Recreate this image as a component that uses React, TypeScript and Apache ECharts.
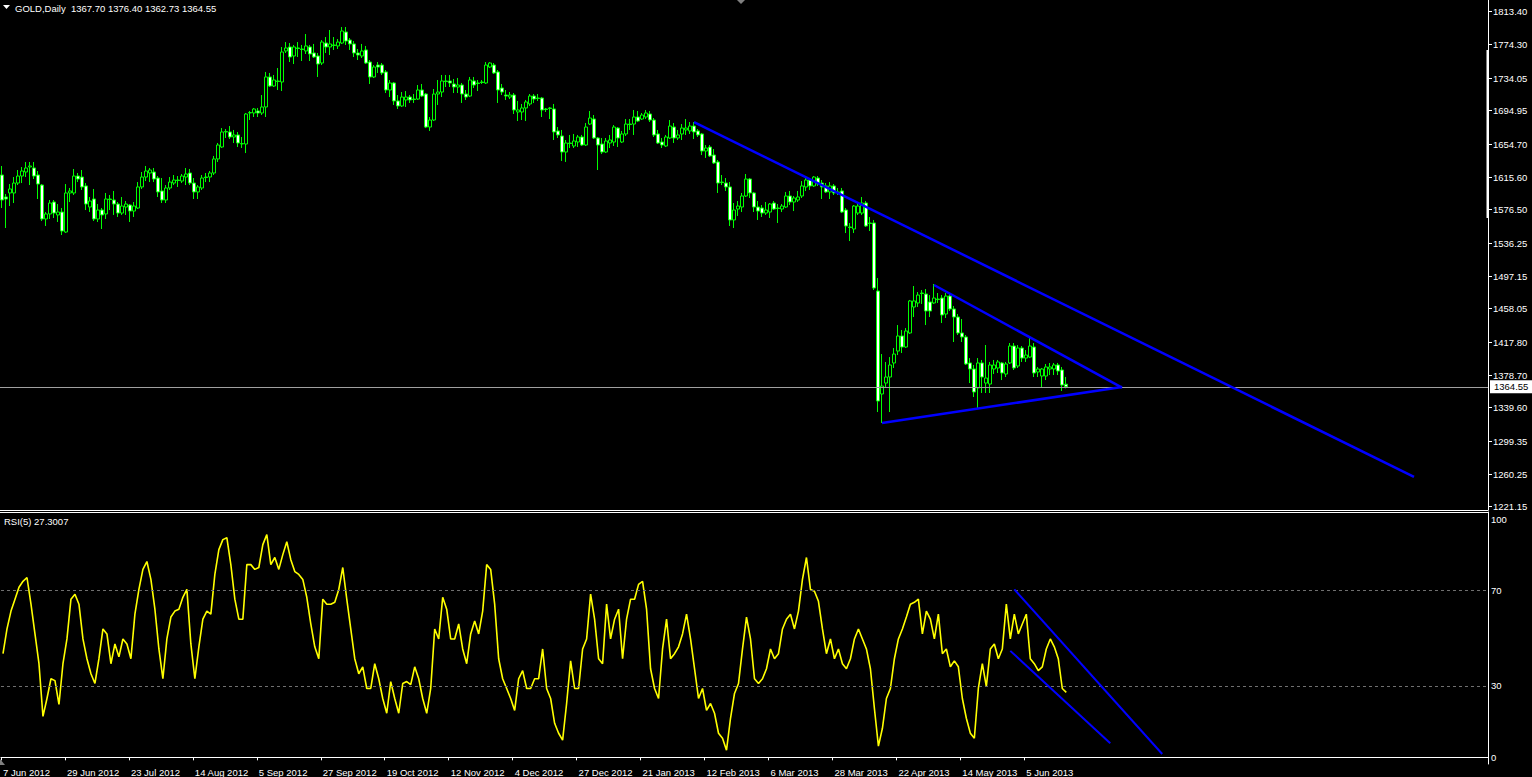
import React, { useEffect, useRef } from "react";
import * as echarts from "echarts";

// ---------- categories ----------
const START_DATE = [2012, 5, 7]; // 7 Jun 2012 (UTC year, monthIndex, day)
const HOLIDAYS = ["2012-12-25", "2013-01-01", "2013-03-29"];
const MONTHS = ["Jan", "Feb", "Mar", "Apr", "May", "Jun", "Jul", "Aug", "Sep", "Oct", "Nov", "Dec"];
const BAR_COUNT = 267;
const SLOT_COUNT = 372;
const LABEL_EVERY = 16;

// ---------- OHLC (GOLD, Daily) ----------
const openPrices = [
  1618.0, 1591.7, 1596.5, 1596.5, 1608.4, 1616.8, 1621.6, 1627.6, 1626.4, 1618.0,
  1606.0, 1565.4, 1571.4, 1585.7, 1570.2, 1573.7, 1549.8, 1596.5, 1596.5, 1616.8,
  1615.6, 1604.9, 1579.7, 1589.3, 1565.4, 1576.1, 1571.4, 1589.3, 1588.1, 1583.3,
  1572.5, 1579.7, 1582.1, 1574.9, 1578.5, 1603.7, 1615.6, 1620.4, 1621.6, 1614.4,
  1598.9, 1588.1, 1602.5, 1608.4, 1612.0, 1610.8, 1615.6, 1620.4, 1608.4, 1597.7,
  1602.5, 1615.6, 1615.6, 1620.4, 1637.2, 1651.5, 1669.5, 1669.5, 1663.5, 1665.9,
  1655.1, 1655.1, 1692.2, 1692.2, 1694.6, 1692.2, 1699.4, 1735.3, 1724.5, 1730.5,
  1729.3, 1766.4, 1771.2, 1760.4, 1770.0, 1768.8, 1766.4, 1771.2, 1764.0, 1760.4,
  1752.0, 1775.9, 1771.2, 1773.6, 1772.4, 1775.9, 1789.1, 1779.5, 1774.8, 1764.0,
  1760.4, 1767.6, 1753.2, 1735.3, 1749.6, 1749.6, 1741.3, 1719.7, 1728.1, 1706.6,
  1700.6, 1707.8, 1711.3, 1708.9, 1708.9, 1719.7, 1714.9, 1675.4, 1683.8, 1714.9,
  1717.3, 1730.5, 1730.5, 1726.9, 1723.3, 1725.7, 1714.9, 1712.5, 1730.5, 1728.1,
  1729.3, 1728.1, 1747.2, 1749.6, 1741.3, 1722.1, 1713.7, 1711.3, 1713.7, 1693.4,
  1693.4, 1698.2, 1703.0, 1712.5, 1710.1, 1710.1, 1697.0, 1698.2, 1697.0, 1670.7,
  1664.7, 1645.5, 1656.3, 1652.7, 1657.5, 1663.5, 1653.9, 1679.0, 1685.0, 1662.3,
  1655.1, 1645.5, 1656.3, 1657.5, 1674.2, 1657.5, 1667.1, 1679.0, 1679.0, 1687.4,
  1685.0, 1687.4, 1691.0, 1683.8, 1667.1, 1657.5, 1652.7, 1662.3, 1675.4, 1662.3,
  1667.1, 1671.9, 1670.7, 1676.6, 1670.7, 1667.1, 1646.7, 1651.5, 1641.9, 1633.6,
  1609.6, 1608.4, 1603.7, 1564.2, 1577.3, 1579.7, 1592.9, 1613.2, 1596.5, 1579.7,
  1578.5, 1572.5, 1573.7, 1584.5, 1578.5, 1577.3, 1579.7, 1592.9, 1585.7, 1588.1,
  1592.9, 1603.7, 1612.0, 1604.9, 1614.4, 1608.4, 1604.9, 1597.7, 1604.9, 1597.7,
  1598.9, 1576.1, 1555.8, 1553.4, 1572.5, 1572.5, 1584.5, 1560.6, 1560.6, 1479.2,
  1356.0, 1369.1, 1376.3, 1393.1, 1407.4, 1425.4, 1412.2, 1429.0, 1460.1, 1464.9,
  1476.8, 1475.6, 1466.1, 1464.9, 1469.6, 1470.8, 1451.7, 1473.2, 1457.7, 1448.1,
  1429.0, 1424.2, 1393.1, 1385.9, 1363.2, 1393.1, 1369.1, 1367.9, 1385.9, 1387.1,
  1393.1, 1379.9, 1393.1, 1413.4, 1389.5, 1411.0, 1399.0, 1400.2, 1412.2, 1382.3,
  1377.5, 1377.5, 1385.9, 1385.9, 1390.7, 1384.7, 1367.7,
];
const closePrices = [
  1588.1, 1589.3, 1601.3, 1608.4, 1616.8, 1622.8, 1626.4, 1628.8, 1616.8, 1607.2,
  1565.4, 1571.4, 1584.5, 1572.5, 1573.7, 1551.0, 1596.5, 1598.9, 1616.8, 1613.2,
  1603.7, 1583.3, 1586.9, 1565.4, 1576.1, 1570.2, 1589.3, 1588.7, 1583.3, 1572.5,
  1580.9, 1583.3, 1574.9, 1580.9, 1603.7, 1615.6, 1622.8, 1624.0, 1613.2, 1597.7,
  1588.1, 1602.5, 1609.6, 1612.0, 1611.4, 1616.8, 1619.2, 1608.4, 1597.7, 1603.7,
  1614.4, 1615.0, 1620.4, 1637.2, 1653.9, 1669.5, 1670.1, 1663.5, 1665.9, 1656.3,
  1655.7, 1691.0, 1692.8, 1697.0, 1692.2, 1699.4, 1735.3, 1724.5, 1731.7, 1729.9,
  1765.2, 1770.0, 1759.2, 1771.2, 1769.4, 1768.2, 1772.4, 1762.8, 1759.2, 1750.8,
  1777.1, 1771.2, 1774.8, 1773.0, 1777.1, 1790.3, 1778.3, 1774.8, 1764.0, 1761.6,
  1766.4, 1752.0, 1735.3, 1747.2, 1747.2, 1740.1, 1719.7, 1728.1, 1706.6, 1700.6,
  1711.3, 1711.3, 1707.8, 1708.3, 1719.7, 1712.5, 1675.4, 1683.8, 1714.9, 1717.3,
  1730.5, 1729.9, 1728.1, 1723.3, 1725.7, 1714.9, 1711.3, 1731.7, 1725.7, 1727.5,
  1728.7, 1749.6, 1752.0, 1740.1, 1719.7, 1717.3, 1712.5, 1713.7, 1695.8, 1695.8,
  1698.2, 1705.4, 1712.5, 1708.9, 1709.5, 1695.8, 1696.4, 1697.6, 1669.5, 1665.9,
  1645.5, 1656.3, 1655.7, 1658.7, 1663.5, 1653.9, 1675.4, 1686.2, 1662.3, 1653.9,
  1645.5, 1658.7, 1659.9, 1675.4, 1662.3, 1667.1, 1679.0, 1678.4, 1687.4, 1682.6,
  1689.8, 1692.2, 1683.8, 1665.9, 1656.3, 1653.9, 1663.5, 1676.6, 1662.3, 1665.9,
  1674.2, 1674.2, 1676.6, 1669.5, 1665.9, 1646.7, 1650.3, 1640.8, 1632.4, 1608.4,
  1609.0, 1603.7, 1564.2, 1576.1, 1580.9, 1592.9, 1613.2, 1596.5, 1579.7, 1574.9,
  1572.5, 1576.1, 1583.3, 1577.3, 1577.9, 1580.9, 1592.9, 1585.7, 1590.5, 1591.7,
  1604.9, 1612.0, 1604.9, 1615.6, 1607.2, 1603.7, 1597.7, 1604.9, 1596.5, 1597.1,
  1573.7, 1557.0, 1555.2, 1580.9, 1580.9, 1584.5, 1557.0, 1560.0, 1482.8, 1347.6,
  1365.5, 1376.3, 1390.7, 1403.8, 1425.4, 1412.2, 1431.4, 1467.3, 1467.3, 1474.4,
  1476.2, 1455.3, 1455.3, 1470.8, 1469.0, 1450.5, 1473.2, 1457.7, 1448.1, 1429.0,
  1424.2, 1391.9, 1385.9, 1358.4, 1393.1, 1376.3, 1375.1, 1390.7, 1390.7, 1394.3,
  1381.1, 1391.9, 1413.4, 1387.1, 1411.0, 1399.0, 1402.6, 1413.4, 1381.1, 1385.9,
  1385.9, 1388.3, 1388.3, 1390.7, 1383.5, 1366.7, 1364.55,
];
const highPrices = [
  1628.8, 1595.3, 1607.2, 1615.6, 1624.0, 1627.6, 1633.6, 1633.6, 1633.6, 1622.8,
  1607.2, 1573.7, 1588.1, 1588.1, 1583.3, 1578.5, 1607.2, 1602.5, 1625.2, 1620.4,
  1624.0, 1608.4, 1591.7, 1601.3, 1583.3, 1578.5, 1596.5, 1594.1, 1598.9, 1585.7,
  1591.7, 1586.9, 1583.3, 1585.7, 1609.6, 1621.6, 1628.8, 1626.4, 1626.4, 1616.8,
  1614.4, 1606.0, 1615.6, 1618.0, 1616.8, 1619.2, 1626.4, 1625.2, 1614.4, 1606.0,
  1618.0, 1620.4, 1622.8, 1640.8, 1656.3, 1674.2, 1673.0, 1676.6, 1671.9, 1669.5,
  1663.5, 1692.2, 1694.6, 1698.2, 1698.2, 1713.7, 1741.3, 1740.1, 1737.7, 1746.0,
  1771.2, 1777.1, 1775.9, 1773.6, 1777.1, 1773.6, 1786.7, 1773.6, 1774.8, 1764.0,
  1779.5, 1783.1, 1791.5, 1783.1, 1780.7, 1795.1, 1795.1, 1781.9, 1778.3, 1768.8,
  1774.8, 1772.4, 1755.6, 1749.6, 1753.2, 1752.0, 1743.6, 1731.7, 1729.3, 1713.7,
  1717.3, 1718.5, 1713.7, 1714.9, 1725.7, 1726.9, 1716.1, 1687.4, 1720.9, 1731.7,
  1737.7, 1737.7, 1737.7, 1732.9, 1734.1, 1728.1, 1719.7, 1735.3, 1735.3, 1731.7,
  1731.7, 1753.2, 1753.0, 1752.0, 1743.6, 1726.9, 1719.7, 1717.3, 1716.1, 1706.6,
  1703.0, 1707.8, 1714.9, 1714.9, 1714.9, 1711.3, 1698.2, 1699.4, 1703.0, 1675.4,
  1671.9, 1659.9, 1665.9, 1667.1, 1665.9, 1665.9, 1680.2, 1694.6, 1689.8, 1663.5,
  1662.3, 1662.3, 1665.9, 1677.8, 1675.4, 1670.7, 1685.0, 1685.0, 1695.8, 1694.6,
  1692.2, 1695.8, 1694.6, 1686.2, 1671.9, 1662.3, 1665.9, 1683.8, 1680.2, 1671.9,
  1679.0, 1685.0, 1681.4, 1681.4, 1673.0, 1668.3, 1653.9, 1653.9, 1649.1, 1636.0,
  1618.0, 1614.4, 1609.6, 1584.5, 1586.9, 1596.5, 1619.2, 1614.4, 1597.7, 1586.9,
  1582.1, 1585.7, 1584.5, 1586.9, 1583.3, 1583.3, 1597.7, 1598.9, 1592.9, 1598.9,
  1610.8, 1615.6, 1614.4, 1616.8, 1616.8, 1612.0, 1608.4, 1609.6, 1607.2, 1602.5,
  1602.5, 1578.5, 1560.6, 1582.1, 1584.5, 1591.7, 1586.9, 1567.8, 1564.2, 1494.8,
  1403.8, 1394.3, 1400.2, 1411.0, 1438.5, 1432.6, 1434.9, 1468.5, 1485.2, 1478.0,
  1480.4, 1481.6, 1474.4, 1487.6, 1476.8, 1474.4, 1476.8, 1476.8, 1461.3, 1451.7,
  1445.7, 1426.6, 1399.0, 1390.7, 1399.0, 1396.7, 1414.6, 1394.3, 1396.7, 1396.7,
  1394.3, 1394.3, 1417.0, 1417.0, 1414.6, 1413.4, 1408.6, 1424.2, 1417.0, 1388.3,
  1387.1, 1391.9, 1393.1, 1393.1, 1393.1, 1388.3, 1376.4,
];
const lowPrices = [
  1578.5, 1554.6, 1580.9, 1584.5, 1606.0, 1608.4, 1615.6, 1606.0, 1613.2, 1589.3,
  1563.0, 1557.0, 1565.4, 1566.6, 1561.8, 1546.2, 1548.6, 1585.7, 1594.1, 1609.6,
  1600.1, 1576.1, 1573.7, 1563.0, 1561.8, 1553.4, 1565.4, 1576.1, 1570.2, 1567.8,
  1570.2, 1570.2, 1561.8, 1567.8, 1577.3, 1601.3, 1610.8, 1609.6, 1609.6, 1591.7,
  1584.5, 1584.5, 1600.1, 1606.0, 1603.7, 1608.4, 1606.0, 1606.0, 1589.3, 1589.3,
  1600.1, 1609.6, 1609.6, 1618.0, 1633.6, 1650.3, 1662.3, 1661.1, 1656.3, 1651.5,
  1650.3, 1644.3, 1683.8, 1687.4, 1687.4, 1689.8, 1687.4, 1723.3, 1723.3, 1719.7,
  1718.5, 1764.0, 1753.2, 1750.8, 1759.2, 1754.4, 1762.8, 1754.4, 1758.0, 1735.3,
  1749.6, 1764.0, 1761.6, 1767.6, 1768.8, 1774.8, 1773.6, 1767.6, 1759.2, 1755.6,
  1758.0, 1750.8, 1726.9, 1734.1, 1740.1, 1737.7, 1716.1, 1711.3, 1701.8, 1697.0,
  1699.4, 1699.4, 1704.2, 1704.2, 1707.8, 1711.3, 1674.2, 1670.7, 1682.6, 1701.8,
  1711.3, 1723.3, 1723.3, 1716.1, 1716.1, 1704.2, 1707.8, 1711.3, 1722.1, 1718.5,
  1726.9, 1726.9, 1746.0, 1738.9, 1704.2, 1713.7, 1707.8, 1708.9, 1691.0, 1682.6,
  1683.8, 1682.6, 1700.6, 1704.2, 1706.6, 1687.4, 1693.4, 1685.0, 1659.9, 1662.3,
  1634.8, 1633.6, 1650.3, 1650.3, 1651.5, 1652.7, 1652.7, 1677.8, 1661.1, 1624.0,
  1643.1, 1644.3, 1650.3, 1652.7, 1651.5, 1656.3, 1664.7, 1671.9, 1665.9, 1681.4,
  1683.8, 1685.0, 1681.4, 1663.5, 1655.1, 1650.3, 1651.5, 1661.1, 1656.3, 1659.9,
  1659.9, 1665.9, 1667.1, 1661.1, 1663.5, 1641.9, 1638.4, 1639.6, 1631.2, 1596.5,
  1606.0, 1598.9, 1557.0, 1554.6, 1569.0, 1573.7, 1591.7, 1590.5, 1573.7, 1564.2,
  1567.8, 1570.2, 1566.6, 1576.1, 1560.6, 1573.7, 1578.5, 1582.1, 1574.9, 1585.7,
  1590.5, 1598.9, 1600.1, 1603.7, 1604.9, 1589.3, 1596.5, 1589.3, 1594.1, 1594.1,
  1572.5, 1548.6, 1539.0, 1548.6, 1570.2, 1570.2, 1555.8, 1551.0, 1480.4, 1334.4,
  1321.3, 1363.2, 1334.4, 1387.1, 1402.6, 1405.0, 1411.0, 1427.8, 1448.1, 1460.1,
  1463.7, 1438.5, 1448.1, 1463.7, 1464.9, 1440.9, 1446.9, 1455.3, 1418.2, 1426.6,
  1418.2, 1390.7, 1369.1, 1352.4, 1338.0, 1357.2, 1357.2, 1357.2, 1379.9, 1381.1,
  1372.7, 1376.3, 1391.9, 1384.7, 1387.1, 1394.3, 1394.3, 1399.0, 1376.3, 1376.3,
  1364.3, 1372.7, 1378.7, 1378.7, 1378.7, 1359.6, 1362.73,
];

// ---------- RSI(5) ----------
const rsiValues = [
  43.5, 53.9, 61.4, 66.4, 71.4, 73.9, 75.5, 64.3, 51.8, 39.3,
  17.2, 24.7, 33.0, 32.2, 22.2, 39.3, 49.7, 66.4, 68.5, 64.3,
  49.7, 41.4, 35.1, 31.0, 41.4, 53.9, 51.8, 39.3, 47.6, 42.2,
  49.7, 47.6, 41.4, 60.1, 70.5, 78.9, 82.2, 74.7, 62.2, 45.5,
  33.0, 49.7, 58.9, 61.4, 62.2, 67.2, 70.5, 47.6, 33.0, 46.4,
  58.0, 61.4, 60.1, 76.8, 87.2, 91.4, 92.2, 80.9, 66.4, 58.0,
  58.0, 80.9, 80.9, 78.9, 79.7, 89.3, 93.5, 80.9, 83.9, 78.9,
  85.1, 90.5, 83.0, 78.0, 76.8, 74.7, 67.2, 56.0, 46.4, 41.4,
  66.4, 64.3, 64.3, 65.1, 70.5, 79.7, 66.4, 53.9, 41.4, 35.1,
  38.0, 28.9, 28.9, 39.3, 33.0, 24.7, 18.5, 31.8, 24.7, 18.5,
  31.0, 31.8, 30.5, 38.0, 33.0, 24.7, 18.5, 28.9, 53.9, 49.7,
  67.2, 62.2, 49.7, 49.7, 56.0, 45.5, 39.3, 51.8, 57.2, 51.8,
  61.4, 80.9, 78.9, 64.3, 41.4, 33.0, 28.9, 24.7, 19.7, 33.0,
  36.4, 28.9, 28.9, 33.0, 33.0, 45.5, 28.9, 24.7, 14.3, 10.1,
  7.2, 22.6, 40.5, 28.9, 28.9, 45.5, 49.7, 68.5, 58.0, 41.4,
  39.3, 64.3, 49.7, 58.0, 62.2, 41.4, 58.0, 66.4, 66.4, 72.6,
  73.9, 62.2, 37.2, 28.9, 24.7, 45.5, 58.0, 41.4, 43.5, 46.4,
  51.8, 60.1, 49.7, 37.2, 24.7, 28.9, 19.7, 22.6, 18.5, 10.1,
  8.0, 3.0, 16.4, 26.8, 31.0, 45.5, 58.9, 49.7, 33.0, 31.0,
  33.0, 37.2, 45.5, 41.4, 43.5, 53.9, 58.0, 60.1, 53.9, 61.4,
  74.7, 83.9, 70.5, 69.7, 65.5, 53.9, 43.5, 49.7, 41.4, 45.5,
  39.3, 37.2, 41.4, 49.7, 53.9, 49.7, 45.5, 37.2, 20.5, 4.7,
  12.2, 24.7, 28.9, 41.4, 49.7, 53.9, 58.9, 64.3, 65.1, 66.4,
  51.8, 61.4, 58.0, 49.7, 60.1, 43.5, 45.5, 38.0, 40.5, 38.0,
  24.7, 16.4, 10.1, 8.0, 28.9, 39.3, 29.7, 45.5, 47.6, 41.4,
  45.5, 64.3, 49.7, 60.1, 51.8, 56.0, 60.1, 41.4, 39.3, 36.4,
  38.0, 45.5, 49.7, 46.4, 41.4, 28.9, 27.3007,
];

// ---------- axis ticks / levels ----------
const priceTicks = [
  1813.4, 1774.3, 1734.05, 1694.95, 1654.7, 1615.6, 1576.5, 1536.25,
  1497.15, 1458.05, 1417.8, 1378.7, 1339.6, 1299.35, 1260.25, 1221.15,
];
const priceMin = 1217.2;
const priceMax = 1827.4;
const rsiTicks = [0, 30, 70, 100];
const rsiLevels = [30, 70];
const rsiMin = -2.8;
const rsiMax = 103.0;
const bidPrice = 1364.55;

// ---------- hand-drawn lines (bar index, value) ----------
const mainTrendLine = [[173, 1681.4], [353, 1256.7]];
const triangleUpper = [[233, 1486.4], [280, 1363.6]];
const triangleLower = [[220, 1321.3], [280, 1364.4]];
const rsiChannelUpper = [[253, 70.5], [290, 1.4]];
const rsiChannelLower = [[252, 44.7], [277, 5.9]];

// ---------- header ----------
const symbolTitle = "GOLD,Daily";
const headerOHLC = ["1367.70", "1376.40", "1362.73", "1364.55"];
const rsiTitle = "RSI(5) 27.3007";

function buildDates(): string[] {
  const out: string[] = [];
  const d = new Date(Date.UTC(START_DATE[0], START_DATE[1], START_DATE[2]));
  while (out.length < BAR_COUNT) {
    const wd = d.getUTCDay();
    const iso = d.toISOString().slice(0, 10);
    if (wd !== 0 && wd !== 6 && HOLIDAYS.indexOf(iso) < 0) {
      out.push(`${d.getUTCDate()} ${MONTHS[d.getUTCMonth()]} ${d.getUTCFullYear()}`);
    }
    d.setUTCDate(d.getUTCDate() + 1);
  }
  return out;
}

const FONT = "'Liberation Sans', Arial, sans-serif";

export default function App() {
  const ref = useRef<HTMLDivElement>(null);
  useEffect(() => {
    if (!ref.current) return;
    const chart = echarts.init(ref.current, null, { renderer: "svg" });
    const dates = buildDates();
    const categories: string[] = [];
    for (let i = 0; i < SLOT_COUNT; i++) categories.push(i < dates.length ? dates[i] : "slot" + i);
    const candles = openPrices.map((o, i) => [o, closePrices[i], lowPrices[i], highPrices[i]]);
    const showIdx = (i: number) => i % LABEL_EVERY === 0 && i < BAR_COUNT;

    const blueLine = (data: number[][], xi: number, yi: number, w: number) => ({
      type: "line",
      xAxisIndex: xi,
      yAxisIndex: yi,
      data,
      symbol: "none",
      silent: true,
      z: 5,
      lineStyle: { color: "#0000ff", width: w },
    });

    const option: any = {
      animation: false,
      backgroundColor: "#000000",
      textStyle: { fontFamily: FONT },
      grid: [
        { left: -1, top: 0, width: 1489, height: 510 },
        { left: -1, top: 512, width: 1489, height: 254 },
      ],
      xAxis: [
        {
          type: "category",
          gridIndex: 0,
          data: categories,
          boundaryGap: true,
          axisLine: { show: true, lineStyle: { color: "#ffffff", width: 1 } },
          axisTick: { show: false },
          axisLabel: { show: false },
          splitLine: { show: false },
        },
        {
          type: "category",
          gridIndex: 1,
          data: categories,
          boundaryGap: true,
          axisLine: { show: true, lineStyle: { color: "#ffffff", width: 1 } },
          axisTick: {
            show: true,
            interval: (i: number) => showIdx(i),
            length: 3,
            lineStyle: { color: "#ffffff" },
          },
          axisLabel: {
            show: true,
            interval: (i: number) => showIdx(i),
            formatter: (v: string, i: number) => (i < BAR_COUNT ? v : ""),
            color: "#ffffff",
            fontSize: 9.5,
            fontFamily: FONT,
            align: "left",
            margin: 3,
          },
          splitLine: { show: false },
        },
      ],
      yAxis: [
        {
          type: "value",
          gridIndex: 0,
          position: "right",
          min: priceMin,
          max: priceMax,
          axisLine: { show: true, lineStyle: { color: "#ffffff", width: 1 } },
          axisTick: { show: true, customValues: priceTicks, length: 4, lineStyle: { color: "#ffffff" } },
          axisLabel: {
            show: true,
            customValues: priceTicks,
            formatter: (v: number) => v.toFixed(2),
            color: "#ffffff",
            fontSize: 9.5,
            fontFamily: FONT,
            margin: 5,
          },
          splitLine: { show: false },
        },
        {
          type: "value",
          gridIndex: 1,
          position: "right",
          min: rsiMin,
          max: rsiMax,
          axisLine: { show: true, lineStyle: { color: "#ffffff", width: 1 } },
          axisTick: { show: false },
          axisLabel: {
            show: true,
            customValues: rsiTicks,
            formatter: (v: number) => String(Math.round(v)),
            color: "#ffffff",
            fontSize: 9.5,
            fontFamily: FONT,
            margin: 3,
          },
          splitLine: { show: false },
        },
      ],
      series: [
        {
          type: "candlestick",
          xAxisIndex: 0,
          yAxisIndex: 0,
          data: candles,
          barWidth: 3,
          silent: true,
          z: 3,
          itemStyle: {
            color: "#000000",
            color0: "#ffffff",
            borderColor: "#00ff00",
            borderColor0: "#00ff00",
            borderWidth: 1,
          },
          markLine: {
            silent: true,
            symbol: ["none", "none"],
            lineStyle: { color: "#a0a0a0", type: "solid", width: 1 },
            label: {
              show: true,
              position: "end",
              formatter: () => bidPrice.toFixed(2),
              backgroundColor: "#ffffff",
              color: "#000000",
              fontSize: 9.5,
              fontFamily: FONT,
              padding: [2, 4, 1, 4],
              distance: 2,
            },
            data: [{ yAxis: bidPrice }],
          },
        },
        blueLine(mainTrendLine, 0, 0, 2.5),
        blueLine(triangleUpper, 0, 0, 2.5),
        blueLine(triangleLower, 0, 0, 2.5),
        {
          type: "line",
          xAxisIndex: 1,
          yAxisIndex: 1,
          data: rsiValues,
          symbol: "none",
          silent: true,
          z: 3,
          lineStyle: { color: "#ffff00", width: 1.6 },
          markLine: {
            silent: true,
            symbol: ["none", "none"],
            label: { show: false },
            lineStyle: { color: "#707070", type: [3, 3], width: 1 },
            data: rsiLevels.map((v) => ({ yAxis: v })),
          },
        },
        blueLine(rsiChannelUpper, 1, 1, 2),
        blueLine(rsiChannelLower, 1, 1, 2),
      ],
      graphic: [
        { type: "polygon", shape: { points: [[3, 5], [10, 5], [6.5, 9]] }, style: { fill: "#ffffff" }, silent: true },
        {
          type: "text",
          x: 15,
          y: 8,
          style: {
            text: symbolTitle + "  " + headerOHLC.join(" "),
            fill: "#ffffff",
            fontSize: 9.5,
            fontFamily: FONT,
            verticalAlign: "middle",
          },
          silent: true,
        },
        {
          type: "text",
          x: 4,
          y: 521,
          style: { text: rsiTitle, fill: "#ffffff", fontSize: 9.5, fontFamily: FONT, verticalAlign: "middle" },
          silent: true,
        },
        { type: "line", shape: { x1: 0, y1: 512.5, x2: 1488, y2: 512.5 }, style: { stroke: "#ffffff", lineWidth: 1 }, silent: true },
        { type: "rect", shape: { x: 1486.5, y: 50, width: 2.5, height: 168 }, style: { fill: "#ffffff" }, silent: true },
        { type: "polygon", shape: { points: [[737, 0], [745, 0], [741, 4]] }, style: { fill: "#808080" }, silent: true },
        { type: "polygon", shape: { points: [[0, 759], [0, 765], [5, 765]] }, style: { fill: "#808080" }, silent: true },
      ],
    };
    chart.setOption(option);
    return () => chart.dispose();
  }, []);

  return (
    <div
      ref={ref}
      style={{ position: "fixed", left: 0, top: 0, width: 1532, height: 777, background: "#000000" }}
    />
  );
}
